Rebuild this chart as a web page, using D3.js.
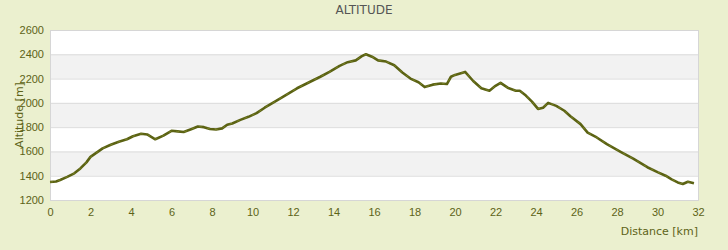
<!DOCTYPE html>
<html>
<head>
<meta charset="utf-8">
<script src="https://cdn.jsdelivr.net/npm/d3@7"></script>
<style>
  body { margin: 0; background: #ebf0cf; }
  svg { display: block; font-family: 'DejaVu Sans', sans-serif; }
</style>
</head>
<body>
<div id="chart"></div>
<script>
// distance along the route (km) and altitude (m), read from the profile
const distances = [0, 0.3, 0.5, 0.85, 1.2, 1.5, 1.8, 2.0, 2.3, 2.6, 3.0, 3.4, 3.8, 4.1, 4.5, 4.8, 5.2, 5.6, 6.0, 6.3, 6.6, 7.0, 7.3, 7.6, 7.9, 8.2, 8.5, 8.75, 9.0, 9.4, 9.8, 10.2, 10.6, 11.0, 11.5, 12.2, 12.8, 13.35, 13.8, 14.3, 14.7, 15.1, 15.4, 15.6, 15.9, 16.2, 16.6, 17.0, 17.4, 17.8, 18.2, 18.5, 18.9, 19.3, 19.6, 19.8, 20.0, 20.5, 20.9, 21.3, 21.7, 22.0, 22.25, 22.6, 23.0, 23.2, 23.5, 23.8, 24.1, 24.35, 24.6, 25.0, 25.4, 25.7, 26.2, 26.55, 27.0, 27.5, 28.2, 28.8, 29.5, 30.0, 30.4, 30.7, 31.0, 31.25, 31.5, 31.8];
const altitudes = [1348, 1352, 1365, 1390, 1420, 1460, 1510, 1555, 1590, 1625, 1655, 1680, 1700, 1725, 1745, 1740, 1700, 1730, 1770, 1765, 1760, 1785, 1805, 1800, 1785, 1780, 1790, 1820, 1830, 1860, 1885, 1915, 1960, 2000, 2050, 2120, 2170, 2215, 2255, 2305, 2335, 2350, 2385, 2400, 2380, 2350, 2340, 2310, 2250, 2200, 2170, 2130, 2150, 2160, 2155, 2215, 2230, 2255, 2180, 2120, 2100, 2140, 2165, 2125, 2100, 2100, 2060, 2010, 1950, 1960, 2000, 1975, 1935, 1890, 1825, 1755, 1715, 1660, 1595, 1540, 1470, 1430, 1400, 1370, 1345, 1332, 1350, 1338];

const yTicks = [1200, 1400, 1600, 1800, 2000, 2200, 2400, 2600];
const xTicks = [0, 2, 4, 6, 8, 10, 12, 14, 16, 18, 20, 22, 24, 26, 28, 30, 32];

const width = 728;
const height = 250;
const margin = { top: 30, right: 30, bottom: 50, left: 50 };

const svg = d3.select('#chart')
  .append('svg')
  .attr('width', width)
  .attr('height', height);

svg.append('rect')
  .attr('width', width)
  .attr('height', height)
  .attr('fill', '#ebf0cf');

const xScale = d3.scaleLinear()
  .domain([0, 32])
  .range([margin.left, width - margin.right]);

const yScale = d3.scaleLinear()
  .domain([1200, 2600])
  .range([height - margin.bottom, margin.top]);

// plot background
svg.append('rect')
  .attr('x', xScale(0))
  .attr('y', yScale(2600))
  .attr('width', xScale(32) - xScale(0))
  .attr('height', yScale(1200) - yScale(2600))
  .attr('fill', '#ffffff');

// alternating grey bands
svg.selectAll('.band')
  .data(yTicks.slice(0, -1).filter((d, i) => i % 2 === 1))
  .enter()
  .append('rect')
  .attr('class', 'band')
  .attr('x', xScale(0))
  .attr('y', d => yScale(d + 200))
  .attr('width', xScale(32) - xScale(0))
  .attr('height', d => yScale(d) - yScale(d + 200))
  .attr('fill', '#f2f2f2');

// grid lines
svg.selectAll('.grid')
  .data(yTicks)
  .enter()
  .append('line')
  .attr('class', 'grid')
  .attr('x1', xScale(0))
  .attr('x2', xScale(32))
  .attr('y1', d => yScale(d) + 0.5)
  .attr('y2', d => yScale(d) + 0.5)
  .attr('stroke', '#dcdcdc')
  .attr('stroke-width', 1);

// plot border
svg.append('rect')
  .attr('x', xScale(0) + 0.5)
  .attr('y', yScale(2600) + 0.5)
  .attr('width', xScale(32) - xScale(0))
  .attr('height', yScale(1200) - yScale(2600))
  .attr('fill', 'none')
  .attr('stroke', '#d6d6d6');

// y axis
const yAxis = svg.append('g')
  .attr('transform', `translate(${margin.left - 6}, 0)`)
  .call(d3.axisLeft(yScale).tickValues(yTicks).tickSize(0).tickPadding(0).tickFormat(d3.format('d')));
yAxis.select('.domain').remove();
yAxis.selectAll('text')
  .style('font-size', '11px')
  .style('fill', '#5d6317');

// x axis
const xAxis = svg.append('g')
  .attr('transform', `translate(0, ${height - margin.bottom + 8})`)
  .call(d3.axisBottom(xScale).tickValues(xTicks).tickSize(0).tickPadding(0));
xAxis.select('.domain').remove();
xAxis.selectAll('text')
  .style('font-size', '11px')
  .style('fill', '#5d6317');

// profile line
const line = d3.line()
  .x((d, i) => xScale(distances[i]))
  .y(d => yScale(d));

svg.append('path')
  .datum(altitudes)
  .attr('d', line)
  .attr('fill', 'none')
  .attr('stroke', '#5b6213')
  .attr('stroke-width', 2.6)
  .attr('stroke-linejoin', 'round');

svg.append('path')
  .datum(altitudes)
  .attr('d', line)
  .attr('fill', 'none')
  .attr('stroke', '#8c9632')
  .attr('stroke-width', 0.6)
  .attr('stroke-dasharray', '3,5');

// title
svg.append('text')
  .attr('x', 364)
  .attr('y', 14)
  .attr('text-anchor', 'middle')
  .style('font-size', '12px')
  .style('fill', '#555555')
  .text('ALTITUDE');

// axis titles
svg.append('text')
  .attr('transform', `translate(23, ${(yScale(1200) + yScale(2600)) / 2}) rotate(-90)`)
  .attr('text-anchor', 'middle')
  .style('font-size', '11px')
  .style('fill', '#5d6317')
  .text('Altitude [m]');

svg.append('text')
  .attr('x', xScale(32))
  .attr('y', 235)
  .attr('text-anchor', 'end')
  .style('font-size', '11px')
  .style('fill', '#5d6317')
  .text('Distance [km]');
</script>
</body>
</html>
